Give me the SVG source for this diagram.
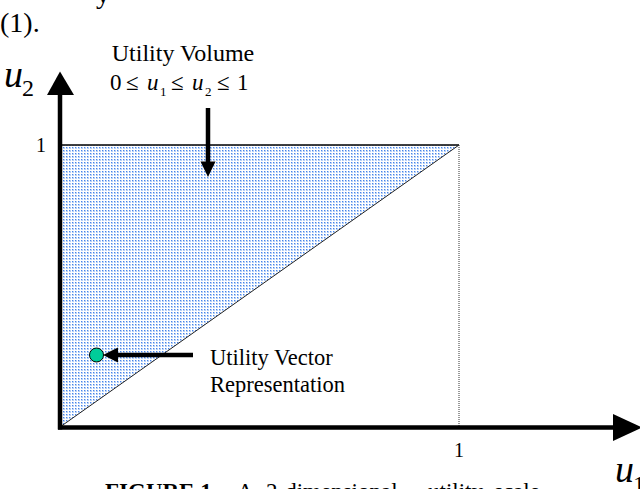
<svg xmlns="http://www.w3.org/2000/svg" width="640" height="489" viewBox="0 0 640 489">
<style>
.t{font-family:"Liberation Serif","Times New Roman",serif;fill:#000}
.i{font-style:italic}
.b{font-weight:bold}
.ax{stroke:#000;stroke-width:4.5;fill:none}
.ar{stroke:#000;stroke-width:4.5;fill:none}
</style>
<defs>
<pattern id="dots" width="3" height="3" patternUnits="userSpaceOnUse">
<rect width="3" height="3" fill="#ffffff"/>
<rect width="2" height="2" fill="#b6d0f6"/>
<rect width="1" height="1" fill="#4683ea"/>
</pattern>
</defs>
<rect width="640" height="489" fill="#ffffff"/>

<g id="page-text">
<text class="t" x="96" y="3" font-size="28">y</text>
<text class="t" x="0" y="32" font-size="28">(1).</text>
<text class="t" y="499" font-size="23"><tspan class="b" x="105">FIGURE 1.</tspan><tspan x="237">A</tspan><tspan x="266">2-dimensional</tspan><tspan x="428">utility</tspan><tspan x="494">scale</tspan></text>
</g>

<g id="utility-volume-region">
<polygon points="60,145 459,145 60,427" fill="url(#dots)"/>
<line x1="60" y1="145" x2="459" y2="145" stroke="#000" stroke-width="1.5"/>
<line x1="60" y1="427" x2="459" y2="145" stroke="#222" stroke-width="1"/>
<line x1="459" y1="145" x2="459" y2="427" stroke="#333" stroke-width="1" stroke-dasharray="1,1"/>
</g>

<g id="axes">
<line class="ax" x1="60" y1="429.5" x2="60" y2="94"/>
<polygon points="60,71.5 47,95 74,95" fill="#000"/>
<line class="ax" x1="58" y1="427.5" x2="614" y2="427.5"/>
<polygon points="642,427.5 613,414 613,441" fill="#000"/>
<text class="t" x="41" y="152" font-size="20" text-anchor="middle">1</text>
<text class="t" x="459" y="457" font-size="20" text-anchor="middle">1</text>
<text class="t" x="4" y="87"><tspan class="i" font-size="38">u</tspan><tspan x="22" y="96" font-size="24">2</tspan></text>
<text class="t" x="615" y="482"><tspan class="i" font-size="38">u</tspan><tspan x="633" y="492" font-size="24">1</tspan></text>
</g>

<g id="utility-volume-label">
<text class="t" x="183" y="61" font-size="24" text-anchor="middle">Utility Volume</text>
<text class="t" y="90" font-size="23"><tspan x="110">0</tspan><tspan x="126">≤</tspan><tspan class="i" x="147">u</tspan><tspan x="160" y="96" font-size="13">1</tspan><tspan x="171" y="90">≤</tspan><tspan class="i" x="192">u</tspan><tspan x="205" y="96" font-size="13">2</tspan><tspan x="217" y="90">≤</tspan><tspan x="237">1</tspan></text>
</g>

<g id="utility-vector">
<circle cx="96.5" cy="355" r="7" fill="#00cc99" stroke="#000" stroke-width="1"/>
<text class="t" x="210" y="365" font-size="22.5">Utility Vector</text>
<text class="t" x="210" y="392" font-size="22.5">Representation</text>
</g>

<g id="connectors">
<line class="ar" x1="208" y1="108" x2="208" y2="163"/>
<polygon points="208,177 200.5,161.5 215.5,161.5" fill="#000"/>
<line class="ar" x1="193" y1="355" x2="116" y2="355"/>
<polygon points="103,355 118,347.5 118,362.5" fill="#000"/>
</g>
</svg>
